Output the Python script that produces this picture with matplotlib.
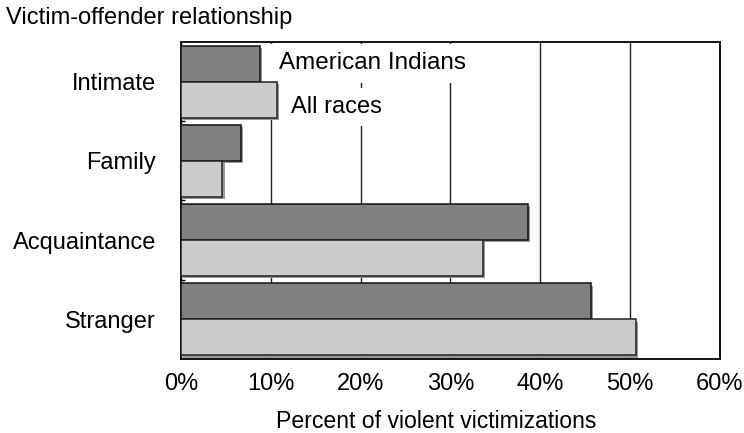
import numpy as np
import matplotlib.pyplot as plt
import matplotlib.patheffects as pe

# relationship categories, top to bottom
categories = ['Intimate', 'Family', 'Acquaintance', 'Stranger']
american_indians = [8.8, 6.7, 38.6, 45.6]
all_races = [10.7, 4.6, 33.6, 50.6]
x_ticks = [0, 10, 20, 30, 40, 50, 60]
x_tick_labels = ['0%', '10%', '20%', '30%', '40%', '50%', '60%']

plt.rcParams['font.family'] = ['Liberation Sans', 'DejaVu Sans']
fs = 17

fig = plt.figure(figsize=(7.44, 4.33), dpi=100)
ax = fig.add_axes([0.2433, 0.171, 0.7244, 0.732])

y = np.arange(len(categories))
h = 0.455
shadow = [pe.SimplePatchShadow(offset=(1.6, -1.6), shadow_rgbFace='0.6', alpha=1), pe.Normal()]

ax.barh(y - h / 2, american_indians, height=h, color='#808080', edgecolor='#111111',
        linewidth=1.1, zorder=4, path_effects=shadow)
ax.barh(y + h / 2, all_races, height=h, color='#cccccc', edgecolor='#222222',
        linewidth=1.1, zorder=4, path_effects=shadow)

ax.set_xlim(0, 60)
ax.set_ylim(len(categories) - 0.5, -0.5)

ax.set_xticks(x_ticks)
ax.set_xticklabels(x_tick_labels, fontsize=fs)
ax.set_yticks(y)
ax.set_yticklabels(categories, fontsize=fs)
ax.set_yticks(np.arange(len(categories) - 1) + 0.5, minor=True)
ax.tick_params(axis='x', length=0, pad=10)
ax.tick_params(axis='y', which='major', length=0, pad=18)
ax.tick_params(axis='y', which='minor', direction='in', length=3, width=1)

ax.set_axisbelow(True)
ax.xaxis.grid(True, color='#222222', linewidth=1)
for s in ax.spines.values():
    s.set_color('black')
    s.set_linewidth(1.3)

ax.set_xlabel('Percent of violent victimizations', fontsize=16.6, labelpad=11, x=0.473)

# legend labels written straight on the plot, covering the gridlines
ax.text(10.9, -0.23, 'American Indians', fontsize=17.5, va='center', ha='left', zorder=3,
        bbox=dict(facecolor='white', edgecolor='none', boxstyle='square,pad=0.35'))
ax.text(12.2, 0.32, 'All races', fontsize=fs, va='center', ha='left', zorder=3,
        bbox=dict(facecolor='white', edgecolor='none', boxstyle='square,pad=0.35'))

fig.text(0.008, 0.958, 'Victim-offender relationship', fontsize=fs, va='center', ha='left')

fig.savefig('out.png', dpi=100)
